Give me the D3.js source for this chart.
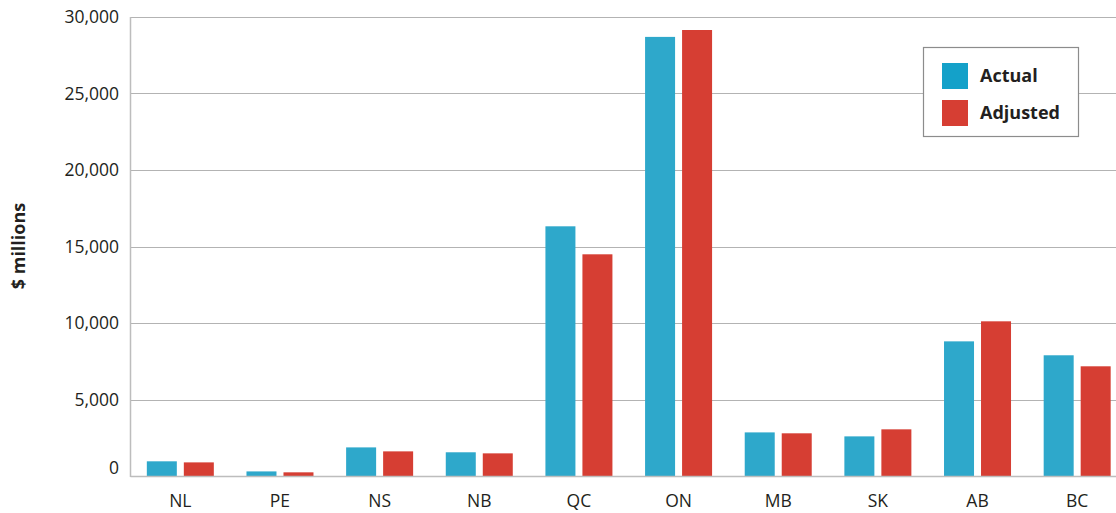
<!DOCTYPE html>
<html><head><meta charset="utf-8">
<script src="https://cdn.jsdelivr.net/npm/d3@7"></script>
<style>
body{margin:0;background:#fff;}
text{font-family:"Open Sans","Noto Sans",sans-serif;fill:#231f20;}
</style></head>
<body><svg id="c" width="1116" height="513"></svg>
<script>
const categories = ["NL","PE","NS","NB","QC","ON","MB","SK","AB","BC"];
const actual   = [960, 300, 1870, 1550, 16320, 28700, 2850, 2590, 8800, 7890];
const adjusted = [890, 240, 1610, 1480, 14490, 29150, 2790, 3050, 10110, 7170];
const seriesNames = ["Actual","Adjusted"];
const yTicks = [0,5000,10000,15000,20000,25000,30000];

const barColors = ["#2ea8cb","#d63e33"];
const legendColors = ["#14a1c9","#d63e33"];

const svg = d3.select("#c");
const pLeft = 130.5, pRight = 1127, pTop = 17, pBottom = 476;

const x = d3.scaleBand().domain(categories).range([pLeft, pRight]);
const y = d3.scaleLinear().domain([0,30000]).range([pBottom, pTop]);
const barW = 30, gap = 7;

// gridlines
svg.append("g").selectAll("line").data(yTicks.filter(d=>d>0)).join("line")
  .attr("x1", pLeft).attr("x2", 1116)
  .attr("y1", d=>Math.round(y(d))+0.5).attr("y2", d=>Math.round(y(d))+0.5)
  .attr("stroke","#b3b3b3").attr("stroke-width",1.2);

// y tick labels
svg.append("g").selectAll("text").data(yTicks).join("text")
  .attr("x", 119).attr("y", d=>y(d) + (d===0 ? -2 : 6))
  .attr("text-anchor","end").attr("font-size",17.5)
  .text(d=>d3.format(",")(d));

// bars
const data = categories.map((c,i)=>({c, v:[actual[i], adjusted[i]]}));
const g = svg.append("g");
data.forEach(d=>{
  const cx = x(d.c) + x.bandwidth()/2;
  d.v.forEach((v,j)=>{
    const x0 = j===0 ? cx - gap/2 - barW : cx + gap/2;
    g.append("rect").attr("x", x0).attr("y", y(v)).attr("width", barW)
      .attr("height", y(0)-y(v)).attr("fill", barColors[j]);
  });
});

// axes lines
svg.append("line").attr("x1",pLeft).attr("x2",pLeft).attr("y1",pTop).attr("y2",pBottom+1)
  .attr("stroke","#bdbdbd").attr("stroke-width",1.5);
svg.append("line").attr("x1",pLeft).attr("x2",1116).attr("y1",pBottom+0.5).attr("y2",pBottom+0.5)
  .attr("stroke","#bdbdbd").attr("stroke-width",1.5);

// x labels
svg.append("g").selectAll("text").data(categories).join("text")
  .attr("x", d=>x(d)+x.bandwidth()/2).attr("y", 507)
  .attr("text-anchor","middle").attr("font-size",17.5).text(d=>d);

// y axis title
svg.append("text").attr("transform","translate(25,246) rotate(-90)")
  .attr("text-anchor","middle").attr("font-size",18).attr("font-weight","bold")
  .text("$ millions");

// legend
const lg = svg.append("g");
lg.append("rect").attr("x",923.5).attr("y",47.5).attr("width",155).attr("height",89)
  .attr("fill","#fff").attr("stroke","#8c8c8c").attr("stroke-width",1.2);
seriesNames.forEach((n,i)=>{
  lg.append("rect").attr("x",942).attr("y",63+i*37).attr("width",26).attr("height",26)
    .attr("fill",legendColors[i]);
  lg.append("text").attr("x",980).attr("y",82+i*37).attr("font-size",18)
    .attr("font-weight","bold").text(n);
});
</script></body></html>
